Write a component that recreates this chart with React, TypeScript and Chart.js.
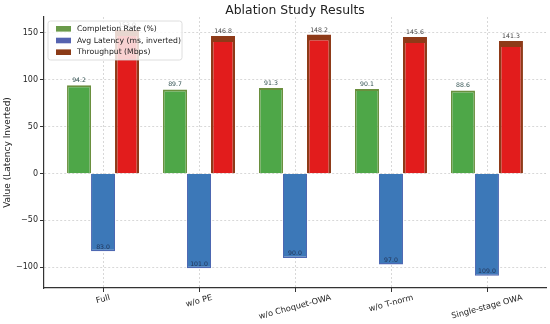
import React, { useEffect, useRef } from "react";
import { Chart, registerables } from "chart.js";

Chart.register(...registerables);

const categories = ["Full", "w/o PE", "w/o Choquet-OWA", "w/o T-norm", "Single-stage OWA"];
const completionRate = [94.2, 89.7, 91.3, 90.1, 88.6];
const avgLatency = [83.0, 101.0, 90.0, 97.0, 109.0];
const throughput = [153.0, 146.8, 148.2, 145.6, 141.3];
const yTicks = [-100, -50, 0, 50, 100, 150];
const seriesNames = ["Completion Rate (%)", "Avg Latency (ms, inverted)", "Throughput (Mbps)"];
const legendColors = ["#6a9a4a", "#5563b0", "#8b3b17"];

const FONT = "'DejaVu Sans', sans-serif";
const GRID = "#cfcfcf";

const annotate = {
  id: "annotate",
  beforeDatasetsDraw(chart: any) {
    const ctx = chart.ctx;
    const area = chart.chartArea;
    const xs = chart.scales.x;
    ctx.save();
    ctx.strokeStyle = GRID;
    ctx.lineWidth = 0.8;
    ctx.setLineDash([2, 2]);
    categories.forEach((_, i) => {
      const x = Math.round(xs.getPixelForValue(i)) + 0.5;
      ctx.beginPath();
      ctx.moveTo(x, area.top);
      ctx.lineTo(x, area.bottom);
      ctx.stroke();
    });
    ctx.restore();
  },
  afterDatasetsDraw(chart: any) {
    const ctx = chart.ctx;
    ctx.save();
    ctx.font = `6.2px ${FONT}`;
    ctx.textAlign = "center";
    ctx.textBaseline = "alphabetic";
    const labelColors = ["#2f4f4f", "#223355", "#444444"];
    [completionRate, avgLatency, throughput].forEach((vals, di) => {
      const meta = chart.getDatasetMeta(di);
      meta.data.forEach((el: any, j: number) => {
        ctx.fillStyle = labelColors[di];
        const txt = vals[j].toFixed(1);
        if (di === 1) ctx.fillText(txt, el.x, el.y - 2.5);
        else ctx.fillText(txt, el.x, el.y - 3);
      });
    });
    ctx.restore();
  },
  afterDraw(chart: any) {
    const ctx = chart.ctx;
    const area = chart.chartArea;
    const xs = chart.scales.x;
    ctx.save();
    ctx.strokeStyle = "#333";
    ctx.lineWidth = 1;
    categories.forEach((_, i) => {
      const x = Math.round(xs.getPixelForValue(i)) + 0.5;
      ctx.beginPath();
      ctx.moveTo(x, area.bottom);
      ctx.lineTo(x, area.bottom + 4);
      ctx.stroke();
    });
    ctx.fillStyle = "#222";
    ctx.font = `12.4px ${FONT}`;
    ctx.textAlign = "center";
    ctx.textBaseline = "alphabetic";
    ctx.fillText("Ablation Study Results", (area.left + area.right) / 2, 13.5);
    ctx.save();
    ctx.translate(7.5, (area.top + area.bottom) / 2);
    ctx.rotate(-Math.PI / 2);
    ctx.font = `9px ${FONT}`;
    ctx.textAlign = "center";
    ctx.textBaseline = "middle";
    ctx.fillText("Value (Latency Inverted)", 0, 0);
    ctx.restore();
    ctx.font = `8.2px ${FONT}`;
    const ang = (15 * Math.PI) / 180;
    categories.forEach((c, i) => {
      const w = ctx.measureText(c).width;
      const fh = 9.5;
      const h = w * Math.sin(ang) + fh * Math.cos(ang);
      const x = xs.getPixelForValue(i);
      const y = area.bottom + 5 + h / 2;
      ctx.save();
      ctx.translate(x, y);
      ctx.rotate(-ang);
      ctx.textAlign = "center";
      ctx.textBaseline = "middle";
      ctx.fillStyle = "#222";
      ctx.fillText(c, 0, 0);
      ctx.restore();
    });
    const lx = area.left + 4, ly = area.top + 4, lw = 134, lh = 39;
    ctx.beginPath();
    const r = 2.5;
    ctx.moveTo(lx + r, ly);
    ctx.arcTo(lx + lw, ly, lx + lw, ly + lh, r);
    ctx.arcTo(lx + lw, ly + lh, lx, ly + lh, r);
    ctx.arcTo(lx, ly + lh, lx, ly, r);
    ctx.arcTo(lx, ly, lx + lw, ly, r);
    ctx.closePath();
    ctx.fillStyle = "rgba(255,255,255,0.8)";
    ctx.fill();
    ctx.strokeStyle = "#d6d6d6";
    ctx.lineWidth = 0.8;
    ctx.stroke();
    ctx.font = `7.7px ${FONT}`;
    ctx.textAlign = "left";
    ctx.textBaseline = "middle";
    seriesNames.forEach((name, i) => {
      const cy = ly + 7.8 + i * 11.7;
      ctx.fillStyle = legendColors[i];
      ctx.fillRect(lx + 8, cy - 2.8, 15, 5.6);
      ctx.fillStyle = "#222";
      ctx.fillText(name, lx + 29, cy + 0.3);
    });
    ctx.restore();
  },
};

export default function App() {
  const ref = useRef<HTMLCanvasElement>(null);
  useEffect(() => {
    document.body.style.margin = "0";
    const mk = (vals: number[], sign: number) => vals.map((v, i) => ({ x: i, y: sign * v }));
    const chart = new Chart(ref.current!, {
      type: "bar",
      data: {
        datasets: [
          {
            label: seriesNames[0],
            data: mk(completionRate, 1),
            backgroundColor: "#4ea748",
            borderColor: "#6a8f3e",
            borderWidth: { top: 2, left: 1.5, right: 1.5, bottom: 0 },
            borderSkipped: "start",
          },
          {
            label: seriesNames[1],
            data: mk(avgLatency, -1),
            backgroundColor: "#3c78b8",
            borderColor: "#4d68b2",
            borderWidth: { top: 0, left: 1, right: 1, bottom: 1.5 },
            borderSkipped: "start",
          },
          {
            label: seriesNames[2],
            data: mk(throughput, 1),
            backgroundColor: "#e21c1c",
            borderColor: "#8e3a18",
            borderWidth: { top: 6, left: 2.5, right: 2.5, bottom: 0 },
            borderSkipped: "start",
          },
        ] as any,
      },
      options: {
        animation: false,
        responsive: false,
        maintainAspectRatio: false,
        datasets: { bar: { categoryPercentage: 0.75, barPercentage: 1, grouped: true } } as any,
        layout: { padding: { top: 17, right: 4, left: 0, bottom: 0 } },
        plugins: { legend: { display: false }, title: { display: false }, tooltip: { enabled: false } },
        scales: {
          x: {
            type: "linear",
            min: -0.615,
            max: 4.615,
            offset: false,
            ticks: { display: false, stepSize: 1, includeBounds: false } as any,
            grid: { display: false } as any,
            border: { display: true, color: "#333", width: 1.2 } as any,
            afterFit: (s: any) => { s.height = 36; },
          },
          y: {
            type: "linear",
            min: -122.1,
            max: 167,
            afterBuildTicks: (s: any) => { s.ticks = yTicks.map((v) => ({ value: v })); },
            ticks: {
              font: { family: "DejaVu Sans", size: 8 },
              color: "#262626",
              padding: 2,
              callback: (v: any) => String(v).replace("-", "\u2212"),
            },
            grid: { color: GRID, lineWidth: 0.8, drawTicks: true, tickLength: 4, tickColor: "#333", tickWidth: 1 } as any,
            border: { display: true, color: "#333", width: 1.2, dash: [2, 2] } as any,
            afterFit: (s: any) => { s.width = 44; },
          },
        },
      } as any,
      plugins: [annotate],
    });
    return () => chart.destroy();
  }, []);
  return (
    <div style={{ position: "fixed", left: 0, top: 0, width: 550, height: 324, background: "#fff" }}>
      <canvas ref={ref} width={550} height={324} style={{ width: 550, height: 324 }} />
    </div>
  );
}
